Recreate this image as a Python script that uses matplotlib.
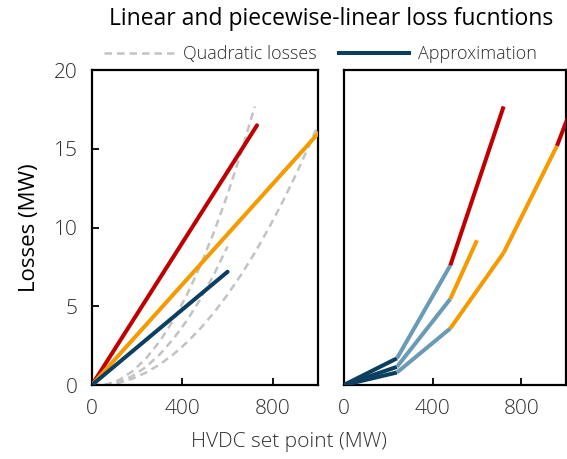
import matplotlib

matplotlib.use("Agg")
import matplotlib.pyplot as plt
from matplotlib.lines import Line2D

FONT = ["Open Sans", "DejaVu Sans"]
TEXT_COLOR = "#2e2e2e"

RED = "#c00000"
ORANGE = "#f59a00"
DARK_BLUE = "#0b3f60"
LIGHT_BLUE = "#6a9bb6"
GREY = "#c3c3c3"

# quadratic loss curves (MW set point -> MW losses)
quad_x_a = [0, 60, 120, 180, 240, 300, 360, 420, 480, 540, 600, 660, 720]
quad_y_a = [0, 0.03, 0.32, 0.88, 1.70, 2.78, 4.12, 5.73, 7.60, 9.73, 12.12, 14.78, 17.70]

quad_x_b = [0, 60, 120, 180, 240, 300, 360, 420, 480, 540, 600]
quad_y_b = [0, 0.0, 0.19, 0.58, 1.16, 1.95, 2.93, 4.10, 5.47, 7.04, 8.81]

quad_x_c = [0, 60, 120, 180, 240, 300, 360, 420, 480, 540, 600, 660, 720,
            780, 840, 900, 960, 1020]
quad_y_c = [0, 0.01, 0.15, 0.41, 0.80, 1.31, 1.95, 2.71, 3.60, 4.61, 5.75,
            7.01, 8.40, 9.91, 11.55, 13.31, 15.20, 17.21]

# linear approximations (left panel)
lin_x_red = [0, 730]
lin_y_red = [0, 16.5]
lin_x_orange = [0, 1020]
lin_y_orange = [0, 16.3]
lin_x_blue = [0, 600]
lin_y_blue = [0, 7.2]

# piecewise-linear approximations (right panel): breakpoints + segment colours
pw_x_a = [0, 240, 480, 720]
pw_y_a = [0, 1.70, 7.60, 17.70]
pw_c_a = [DARK_BLUE, LIGHT_BLUE, RED]

pw_x_b = [0, 240, 480, 600]
pw_y_b = [0, 1.16, 5.47, 9.20]
pw_c_b = [DARK_BLUE, LIGHT_BLUE, ORANGE]

pw_x_c = [0, 240, 480, 720, 960, 1200]
pw_y_c = [0, 0.80, 3.60, 8.40, 15.20, 24.0]
pw_c_c = [DARK_BLUE, LIGHT_BLUE, ORANGE, ORANGE, RED]

x_ticks = [0, 400, 800]
y_ticks = [0, 5, 10, 15, 20]

plt.rcParams["font.family"] = FONT
plt.rcParams["font.weight"] = "light"
plt.rcParams["text.color"] = TEXT_COLOR
plt.rcParams["xtick.color"] = "black"
plt.rcParams["ytick.color"] = "black"
plt.rcParams["xtick.labelcolor"] = TEXT_COLOR
plt.rcParams["ytick.labelcolor"] = TEXT_COLOR

fig = plt.figure(figsize=(5.67, 4.59), dpi=100)
ax0 = fig.add_axes([0.162, 0.161, 0.399, 0.686])
ax1 = fig.add_axes([0.606, 0.161, 0.392, 0.686])

LW = 2.9
DASH_LW = 1.8

for ax in (ax0, ax1):
    ax.set_xlim(0, 1000)
    ax.set_ylim(0, 20)
    ax.set_xticks(x_ticks)
    ax.tick_params(axis="both", direction="in", length=5, width=1.3,
                   labelsize=15, pad=10)
    for s in ax.spines.values():
        s.set_linewidth(1.6)
        s.set_color("black")

ax0.set_yticks(y_ticks)
ax1.set_yticks([])

# left: quadratic losses + linear fits
for qx, qy in ((quad_x_a, quad_y_a), (quad_x_b, quad_y_b), (quad_x_c, quad_y_c)):
    ax0.plot(qx, qy, color=GREY, lw=DASH_LW, ls=(0, (3, 2)), zorder=1)

ax0.plot(lin_x_red, lin_y_red, color=RED, lw=LW, solid_capstyle="round", zorder=3)
ax0.plot(lin_x_orange, lin_y_orange, color=ORANGE, lw=LW, solid_capstyle="round", zorder=3)
ax0.plot(lin_x_blue, lin_y_blue, color=DARK_BLUE, lw=LW, solid_capstyle="round", zorder=3)

# right: piecewise-linear approximations
for px, py, pc in ((pw_x_c, pw_y_c, pw_c_c), (pw_x_b, pw_y_b, pw_c_b), (pw_x_a, pw_y_a, pw_c_a)):
    for i, c in enumerate(pc):
        ax1.plot(px[i:i + 2], py[i:i + 2], color=c, lw=LW,
                 solid_capstyle="butt", zorder=3)

ax0.set_ylabel("Losses (MW)", fontsize=16, labelpad=10)
fig.text(0.51, 0.038, "HVDC set point (MW)", ha="center", va="center", fontsize=15)
fig.text(0.584, 0.958, "Linear and piecewise-linear loss fucntions",
         ha="center", va="center", fontsize=16.5, color="black", fontweight="normal")

handles = [
    Line2D([], [], color=GREY, lw=DASH_LW, ls=(0, (3, 2))),
    Line2D([], [], color=DARK_BLUE, lw=LW),
]
fig.legend(handles, ["Quadratic losses", "Approximation"], loc="center",
           bbox_to_anchor=(0.565, 0.882), ncol=2, frameon=False, fontsize=13,
           handlelength=3.9, handletextpad=0.5, columnspacing=1.2)

fig.savefig("out.png", dpi=100)
